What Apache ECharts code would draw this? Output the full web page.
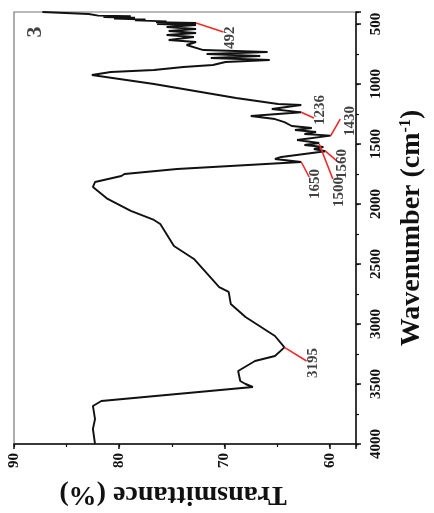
<!DOCTYPE html>
<html><head><meta charset="utf-8">
<script src="https://cdn.jsdelivr.net/npm/echarts@6/dist/echarts.min.js"></script>
<style>html,body{margin:0;padding:0;background:#fff}#c{width:434px;height:513px}</style>
</head><body><div id="c"></div>
<script>
// Spectrum: wavenumber (cm-1) and transmittance (%)
const wavenumber = [400,417,430,436,442,448,455,462,470,478,485,492,500,508,525,542,558,575,592,608,633,650,675,717,733,750,767,783,800,817,842,858,883,900,925,1000,1117,1167,1175,1208,1236,1267,1292,1317,1350,1367,1383,1400,1417,1430,1467,1492,1508,1525,1542,1560,1608,1625,1650,1708,1750,1767,1817,1858,1958,2058,2133,2167,2350,2458,2692,2733,2833,2942,3100,3195,3267,3308,3392,3475,3500,3525,3642,3683,3792,3875,4000];
const transmittance = [87.3,82.9,82.0,78.9,81.5,78.5,80.5,77.5,78.5,75.5,76.5,72.7,76.4,72.7,75.5,72.7,75.3,72.7,75.5,72.9,75.3,72.7,73.6,72.0,65.9,71.7,66.6,71.3,65.7,69.9,71.1,73.9,76.7,80.8,82.6,76.7,68.9,64.9,62.7,65.5,62.7,67.5,65.2,64.3,63.6,61.7,63.3,61.3,62.4,59.9,63.1,61.0,62.4,60.6,61.5,60.4,64.6,65.2,62.7,74.5,79.5,79.8,82.3,82.5,81.1,78.9,76.7,76.1,74.8,72.9,70.5,69.6,69.4,68.0,65.2,64.3,65.2,67.1,68.7,68.5,68.0,67.3,81.7,82.5,82.3,82.5,82.3];
// Annotated peaks
const peakLabels = ['492','1236','1430','1560','1500','1650','3195'];
const peakWn = [492,1236,1430,1560,1500,1650,3195];
const peakT = [72.7,62.7,59.9,60.4,61.0,62.7,64.3];
// Axis ticks
const xTicks = [60,70,80,90];
const yTicks = [500,1000,1500,2000,2500,3000,3500,4000];
const panelLabel = '3';

// callout layout (leader line end and label centre, in data units)
const calloutLayout = [
  {end:[70.1,567], lab:[69.5,615]},
  {end:[61.5,1283], lab:[60.9,1217]},
  {end:[59.0,1292], lab:[58.1,1308]},
  {end:[59.3,1642], lab:[58.8,1667]},
  {end:[59.7,1792], lab:[59.15,1900]},
  {end:[61.95,1775], lab:[61.35,1833]},
  {end:[62.2,3308], lab:[61.6,3325]}
];
const panelLabelPos = [88.0, 567];

const FF = 'Liberation Serif';
const chart = echarts.init(document.getElementById('c'));
const series = [{
  type:'line', xAxisIndex:0, yAxisIndex:0,
  data: wavenumber.map((w,i)=>[transmittance[i], w]),
  showSymbol:false, smooth:false, z:3,
  lineStyle:{color:'#111', width:1.9}
}];
peakWn.forEach((w,i)=>{
  const L = calloutLayout[i];
  series.push({type:'line', xAxisIndex:0, yAxisIndex:0, showSymbol:false, z:4, silent:true,
    data:[[peakT[i], w], L.end], lineStyle:{color:'#f02828', width:1.6}});
  series.push({type:'scatter', xAxisIndex:0, yAxisIndex:0, symbolSize:0, z:5, silent:true,
    data:[[L.lab[0], L.lab[1]]],
    label:{show:true, position:'inside', rotate:90, formatter:peakLabels[i],
      fontFamily:FF, fontWeight:'bold', fontSize:15, color:'#111'}});
});
series.push({type:'scatter', xAxisIndex:0, yAxisIndex:0, symbolSize:0, z:5, silent:true,
  data:[panelLabelPos],
  label:{show:true, position:'inside', rotate:90, formatter:panelLabel,
    fontFamily:FF, fontWeight:'bold', fontSize:22, color:'#111'}});

chart.setOption({
  animation:false,
  grid:{left:14, right:71, top:12, bottom:67, show:true, borderColor:'#777', borderWidth:1.2},
  xAxis:[{
    type:'value', min:57.5, max:90, inverse:true, position:'bottom',
    splitNumber:3, minInterval:10, maxInterval:10,
    axisLine:{show:true, lineStyle:{color:'#111', width:1.5}},
    axisTick:{show:true, length:5, lineStyle:{color:'#111', width:1.5}},
    splitLine:{show:false},
    axisLabel:{rotate:90, margin:9, fontFamily:FF, fontWeight:'bold', fontSize:15, color:'#111',
      formatter:v=> xTicks.includes(v) ? String(v) : ''},
    name:'Transmittance (%)', nameLocation:'middle', nameGap:36, nameRotate:180,
    nameTextStyle:{fontFamily:FF, fontWeight:'bold', fontSize:28, color:'#111', padding:[0,0,0,24]}
  },{
    type:'value', min:57.5, max:90, inverse:true, position:'bottom',
    splitNumber:6, minInterval:5, maxInterval:5,
    axisLine:{show:false}, axisLabel:{show:false}, splitLine:{show:false},
    axisTick:{show:true, length:3, lineStyle:{color:'#111', width:1.2}}
  }],
  yAxis:[{
    type:'value', min:400, max:4000, inverse:true, position:'right',
    splitNumber:7, minInterval:500, maxInterval:500,
    axisLine:{show:true, lineStyle:{color:'#111', width:1.5}},
    axisTick:{show:true, length:5, lineStyle:{color:'#111', width:1.5}},
    splitLine:{show:false},
    axisLabel:{rotate:90, margin:13, fontFamily:FF, fontWeight:'bold', fontSize:15, color:'#111',
      formatter:v=> yTicks.includes(v) ? String(v) : ''},
    name:'{t|Wavenumber (cm}{s|-1}{t|)}', nameLocation:'middle', nameGap:42, nameRotate:90,
    nameTextStyle:{rich:{
      t:{fontFamily:FF, fontWeight:'bold', fontSize:28, color:'#111'},
      s:{fontFamily:FF, fontWeight:'bold', fontSize:16, color:'#111', verticalAlign:'top'}
    }}
  },{
    type:'value', min:400, max:4000, inverse:true, position:'right',
    splitNumber:14, minInterval:250, maxInterval:250,
    axisLine:{show:false}, axisLabel:{show:false}, splitLine:{show:false},
    axisTick:{show:true, length:3, lineStyle:{color:'#111', width:1.2}}
  }],
  series: series
});
</script></body></html>
